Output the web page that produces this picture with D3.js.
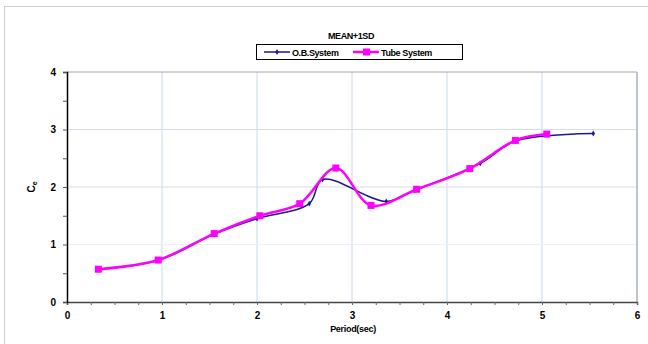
<!DOCTYPE html>
<html>
<head>
<meta charset="utf-8">
<script src="https://cdn.jsdelivr.net/npm/d3@7"></script>
<style>
  body { margin: 0; background: #fff; }
  svg { display: block; font-family: "Liberation Sans", Arial, sans-serif; font-weight: bold; }
</style>
</head>
<body>
<div class="container"></div>
<script>
const seriesNames = ["O.B.System", "Tube System"];
const obPeriod = [0.33, 0.97, 1.55, 2.0, 2.55, 2.69, 3.36, 3.66, 4.35, 4.72, 5.54];
const obValue = [0.57, 0.73, 1.18, 1.45, 1.71, 2.13, 1.75, 1.94, 2.41, 2.8, 2.93];
const tubePeriod = [0.33, 0.96, 1.55, 2.03, 2.45, 2.83, 3.2, 3.68, 4.24, 4.72, 5.05];
const tubeValue = [0.57, 0.73, 1.19, 1.5, 1.71, 2.33, 1.68, 1.96, 2.32, 2.81, 2.92];
const xTicks = [0, 1, 2, 3, 4, 5, 6];
const yTicks = [0, 1, 2, 3, 4];

const width = 648;
const height = 344;
const margin = { top: 72, right: 11, bottom: 42, left: 67 };

const svg = d3.select(".container").append("svg")
  .attr("width", width)
  .attr("height", height);

// outer chart frame (runs off the right/bottom edge)
svg.append("rect")
  .attr("x", 4.5).attr("y", 6.5)
  .attr("width", 700).attr("height", 400)
  .attr("fill", "none")
  .attr("stroke", "#cfcfcf");

const x = d3.scaleLinear().domain([0, 6]).range([margin.left, width - margin.right]);
const y = d3.scaleLinear().domain([0, 4]).range([height - margin.bottom, margin.top]);

// gridlines
svg.append("g").selectAll("line")
  .data(xTicks.slice(1, -1))
  .join("line")
  .attr("x1", (d) => x(d)).attr("x2", (d) => x(d))
  .attr("y1", y(0)).attr("y2", y(4))
  .attr("stroke", "#c8d8ee").attr("stroke-width", 1);

svg.append("g").selectAll("line")
  .data(yTicks.slice(1, -1))
  .join("line")
  .attr("x1", x(0)).attr("x2", x(6))
  .attr("y1", (d) => y(d)).attr("y2", (d) => y(d))
  .attr("stroke", (d) => (d === 1 ? "#eef0f6" : "#d6dcea")).attr("stroke-width", 1);

// plot border top/right
svg.append("line")
  .attr("x1", x(0)).attr("x2", x(6)).attr("y1", y(4)).attr("y2", y(4))
  .attr("stroke", "#a8a8a8");
svg.append("line")
  .attr("x1", x(6)).attr("x2", x(6)).attr("y1", y(4)).attr("y2", y(0))
  .attr("stroke", "#a8b0c0").attr("stroke-width", 1.5);

// axes
const xAxis = svg.append("g")
  .attr("transform", `translate(0,${y(0)})`)
  .call(d3.axisBottom(x).tickValues(d3.range(0, 6.01, 0.25)).tickSize(3).tickFormat(""));
xAxis.select(".domain").attr("stroke", "#444").attr("stroke-width", 1.5);
xAxis.selectAll(".tick line").attr("stroke", "#666");

svg.append("g")
  .attr("transform", `translate(0,${y(0)})`)
  .call(d3.axisBottom(x).tickValues(xTicks).tickSize(0).tickPadding(10).tickFormat(d3.format("d")))
  .call((g) => g.select(".domain").remove())
  .selectAll("text")
  .attr("font-size", 10).attr("font-weight", "bold").attr("fill", "#000")
  .attr("font-family", "Liberation Sans, Arial, sans-serif");

const yAxis = svg.append("g")
  .attr("transform", `translate(${x(0)},0)`)
  .call(d3.axisLeft(y).tickValues(d3.range(0, 4.01, 0.5)).tickSize(4).tickFormat(""));
yAxis.select(".domain").attr("stroke", "#000").attr("stroke-width", 1.5);
yAxis.selectAll(".tick line").attr("stroke", "#555");

svg.append("g")
  .attr("transform", `translate(${x(0)},0)`)
  .call(d3.axisLeft(y).tickValues(yTicks).tickSize(0).tickPadding(11).tickFormat(d3.format("d")))
  .call((g) => g.select(".domain").remove())
  .selectAll("text")
  .attr("font-size", 10).attr("font-weight", "bold").attr("fill", "#000")
  .attr("font-family", "Liberation Sans, Arial, sans-serif");

// series
const line = d3.line()
  .x((d) => x(d[0]))
  .y((d) => y(d[1]))
  .curve(d3.curveCatmullRom.alpha(0.5));

const obData = d3.zip(obPeriod, obValue);
const tubeData = d3.zip(tubePeriod, tubeValue);

svg.append("path")
  .datum(obData)
  .attr("d", line)
  .attr("fill", "none")
  .attr("stroke", "#1a1a8c")
  .attr("stroke-width", 1.5);

svg.append("g").selectAll("path")
  .data(obData)
  .join("path")
  .attr("transform", (d) => `translate(${x(d[0])},${y(d[1])})`)
  .attr("d", d3.symbol(d3.symbolDiamond, 10))
  .attr("fill", "#1a1a8c");

svg.append("path")
  .datum(tubeData)
  .attr("d", line)
  .attr("fill", "none")
  .attr("stroke", "#ff00ff")
  .attr("stroke-width", 2.5);

svg.append("g").selectAll("rect")
  .data(tubeData)
  .join("rect")
  .attr("x", (d) => x(d[0]) - 3.5)
  .attr("y", (d) => y(d[1]) - 3.5)
  .attr("width", 7).attr("height", 7)
  .attr("fill", "#ff00ff");

// title
svg.append("text")
  .attr("x", 351).attr("y", 39)
  .attr("text-anchor", "middle")
  .attr("font-size", 9)
  .attr("letter-spacing", -0.4)
  .text("MEAN+1SD");

// legend
const legend = svg.append("g");
legend.append("rect")
  .attr("x", 256.5).attr("y", 44.5)
  .attr("width", 206).attr("height", 15)
  .attr("fill", "#fff").attr("stroke", "#000");

const legendItems = [
  { name: seriesNames[0], x0: 264, color: "#1a1a8c", width: 1.5, marker: "diamond" },
  { name: seriesNames[1], x0: 353, color: "#ff00ff", width: 2.5, marker: "square" },
];
legendItems.forEach((item) => {
  legend.append("line")
    .attr("x1", item.x0).attr("x2", item.x0 + 26)
    .attr("y1", 52).attr("y2", 52)
    .attr("stroke", item.color).attr("stroke-width", item.width);
  if (item.marker === "square") {
    legend.append("rect")
      .attr("x", item.x0 + 10).attr("y", 48.5)
      .attr("width", 7).attr("height", 7)
      .attr("fill", item.color);
  } else {
    legend.append("path")
      .attr("transform", `translate(${item.x0 + 13},52)`)
      .attr("d", d3.symbol(d3.symbolDiamond, 10))
      .attr("fill", item.color);
  }
  legend.append("text")
    .attr("x", item.x0 + 28).attr("y", 55.5)
    .attr("font-size", 9)
    .attr("letter-spacing", -0.4)
    .text(item.name);
});

// axis titles
svg.append("text")
  .attr("x", 353).attr("y", 332)
  .attr("text-anchor", "middle")
  .attr("font-size", 9)
  .attr("letter-spacing", -0.3)
  .text("Period(sec)");

const yTitle = svg.append("text")
  .attr("transform", `translate(35,${y(2)}) rotate(-90)`)
  .attr("text-anchor", "middle")
  .attr("font-size", 10);
yTitle.append("tspan").text("C");
yTitle.append("tspan").attr("font-size", 7).attr("dy", 2).text("e");
</script>
</body>
</html>
